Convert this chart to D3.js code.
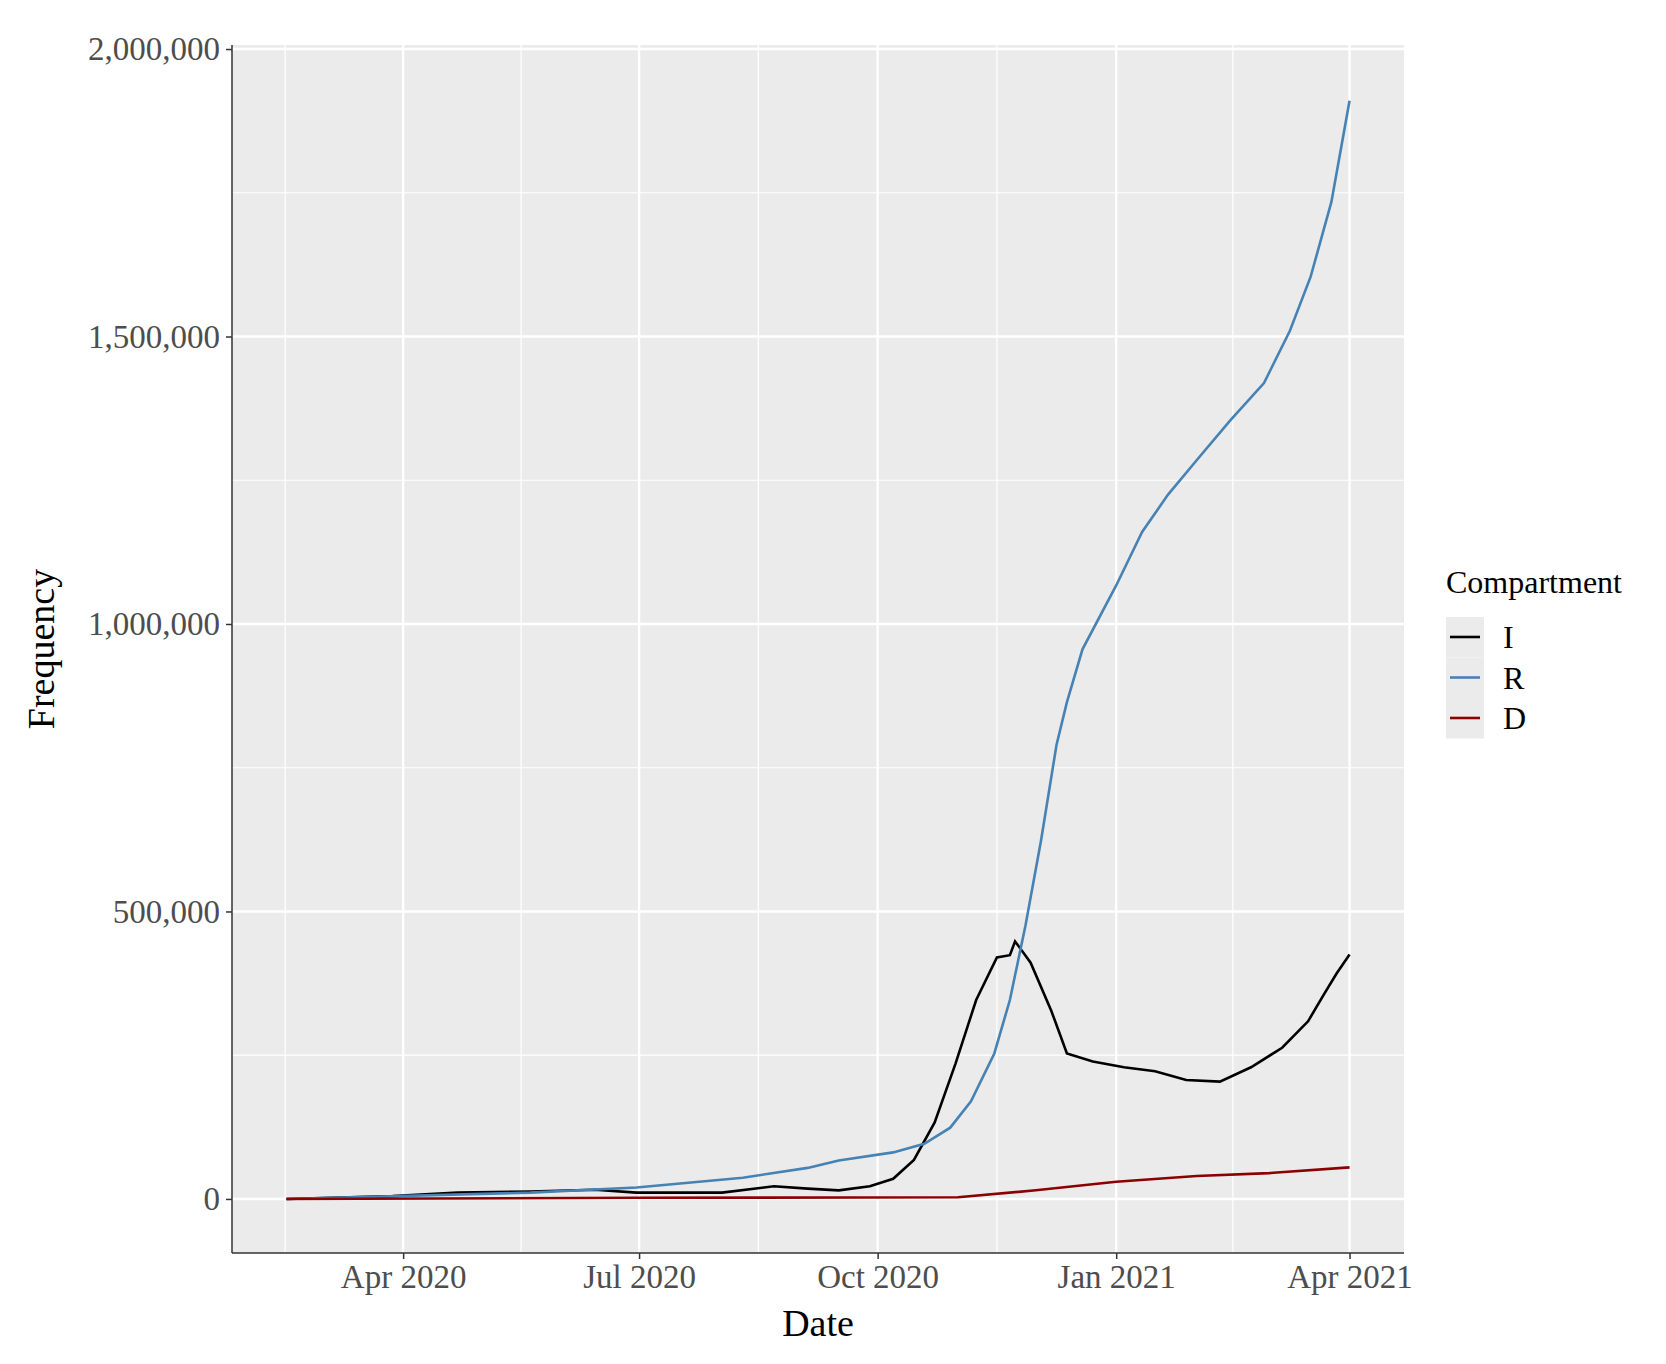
<!DOCTYPE html><html><head><meta charset="utf-8"><script src="https://cdn.jsdelivr.net/npm/d3@7"></script>
<style>body{margin:0;background:#fff}</style></head><body><svg id="c" width="1666" height="1364"></svg><script>
const rDates=["2020-02-16","2020-05-20","2020-06-30","2020-08-10","2020-09-04","2020-09-16","2020-10-07","2020-10-19","2020-10-29","2020-11-06","2020-11-15","2020-11-21","2020-11-27","2020-12-03","2020-12-09","2020-12-13","2020-12-19","2021-01-01","2021-01-11","2021-01-21","2021-02-02","2021-02-14","2021-02-27","2021-03-09","2021-03-17","2021-03-25","2021-04-01"];
const rVals=[0,11000,20000,37000,54000,67000,81000,96000,124000,170000,253000,346000,475000,623000,790000,864000,956000,1067000,1160000,1225000,1290000,1354000,1419000,1510000,1604000,1734000,1910000];
const iDates=["2020-02-16","2020-03-28","2020-04-22","2020-05-20","2020-06-14","2020-06-30","2020-08-02","2020-08-22","2020-09-04","2020-09-16","2020-09-28","2020-10-07","2020-10-15","2020-10-23","2020-10-31","2020-11-08","2020-11-16","2020-11-21","2020-11-23","2020-11-29","2020-12-07","2020-12-13","2020-12-23","2021-01-04","2021-01-16","2021-01-28","2021-02-10","2021-02-22","2021-03-06","2021-03-16","2021-03-22","2021-03-27","2021-04-01"];
const iVals=[0,5000,11000,13000,16000,11000,11000,22000,18000,15000,22000,35000,68000,133000,235000,346000,420000,424000,448000,411000,327000,253000,239000,229000,222000,207000,204000,229000,263000,309000,355000,392000,425000];
const dDates=["2020-02-16","2020-07-01","2020-11-01","2020-12-01","2021-01-01","2021-02-01","2021-03-01","2021-04-01"];
const dVals=[0,2000,3000,15000,30000,40000,45000,55000];
const yTicks=[0,500000,1000000,1500000,2000000];
const xTicks=["2020-04-01","2020-07-01","2020-10-01","2021-01-01","2021-04-01"];
const series=[{k:"I",d:iDates,v:iVals,c:"#000000"},{k:"R",d:rDates,v:rVals,c:"#4682B4"},{k:"D",d:dDates,v:dVals,c:"#8B0000"}];
const P=d3.timeParse("%Y-%m-%d");
const svg=d3.select("#c");
const L=232,R=1404,T=45,B=1253;
const x=d3.scaleTime().domain([P("2020-01-26"),P("2021-04-22")]).range([L,R]);
const y=d3.scaleLinear().domain([-94000,2007000]).range([B,T]);
const F="Liberation Serif, Times New Roman, serif";
svg.append("rect").attr("x",L).attr("y",T).attr("width",R-L).attr("height",B-T).attr("fill","#EBEBEB");
const xt=xTicks.map(P);
const xm=[];for(let i=0;i<xt.length-1;i++)xm.push(new Date((+xt[i]+ +xt[i+1])/2));
xm.unshift(new Date(+xt[0]-(xt[1]-xt[0])/2));xm.push(new Date(+xt[4]+(xt[4]-xt[3])/2));
const g=svg.append("g");
xm.filter(d=>x(d)>L&&x(d)<R).forEach(d=>g.append("line").attr("x1",x(d)).attr("x2",x(d)).attr("y1",T).attr("y2",B).attr("stroke","#fff").attr("stroke-width",1.2));
[250000,750000,1250000,1750000].forEach(v=>g.append("line").attr("x1",L).attr("x2",R).attr("y1",y(v)).attr("y2",y(v)).attr("stroke","#fff").attr("stroke-width",1.2));
xt.forEach(d=>g.append("line").attr("x1",x(d)).attr("x2",x(d)).attr("y1",T).attr("y2",B).attr("stroke","#fff").attr("stroke-width",2.4));
yTicks.forEach(v=>g.append("line").attr("x1",L).attr("x2",R).attr("y1",y(v)).attr("y2",y(v)).attr("stroke","#fff").attr("stroke-width",2.4));
const line=d3.line().x(d=>x(d[0])).y(d=>y(d[1]));
series.forEach(s=>svg.append("path").datum(s.d.map((d,i)=>[P(d),s.v[i]])).attr("d",line).attr("fill","none").attr("stroke",s.c).attr("stroke-width",2.6));
const xa=svg.append("g").attr("transform",`translate(0,${B})`).call(d3.axisBottom(x).tickValues(xt).tickFormat(d3.timeFormat("%b %Y")).tickSize(6).tickPadding(6));
const ya=svg.append("g").attr("transform",`translate(${L},0)`).call(d3.axisLeft(y).tickValues(yTicks).tickFormat(d3.format(",")).tickSize(6).tickPadding(6));
[xa,ya].forEach(a=>{a.select(".domain").attr("stroke","#333").attr("stroke-width",1.5);a.selectAll(".tick line").attr("stroke","#333").attr("stroke-width",1.5);a.selectAll("text").attr("font-family",F).attr("font-size",33).attr("fill","#4D4D4D");});
xa.select(".domain").attr("d",`M${L},0H${R}`);ya.select(".domain").attr("d",`M0,${T}V${B}`);
svg.append("text").attr("x",(L+R)/2).attr("y",1336).attr("text-anchor","middle").attr("font-family",F).attr("font-size",38).text("Date");
svg.append("text").attr("transform",`translate(54,${(T+B)/2}) rotate(-90)`).attr("text-anchor","middle").attr("font-family",F).attr("font-size",38).text("Frequency");
svg.append("text").attr("x",1446).attr("y",593).attr("font-family",F).attr("font-size",32).text("Compartment");
series.forEach((s,i)=>{const cy=637+i*40.5;
svg.append("rect").attr("x",1446).attr("y",cy-20).attr("width",38).attr("height",40.5).attr("fill","#EBEBEB");
svg.append("line").attr("x1",1450).attr("x2",1480).attr("y1",cy).attr("y2",cy).attr("stroke",s.c).attr("stroke-width",2.6);
svg.append("text").attr("x",1503).attr("y",cy+11).attr("font-family",F).attr("font-size",32).text(s.k);});
</script></body></html>
